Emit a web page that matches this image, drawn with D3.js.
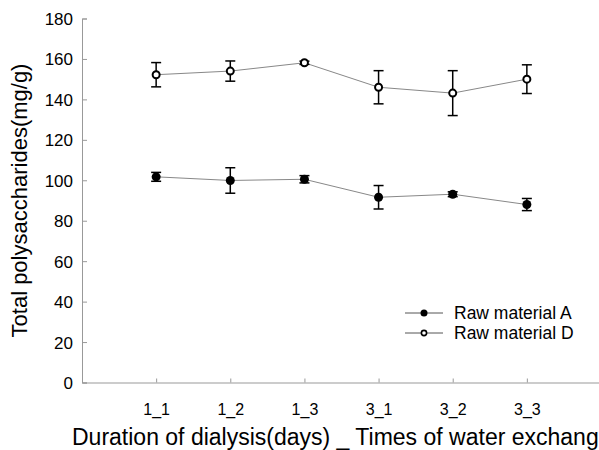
<!DOCTYPE html>
<html>
<head>
<meta charset="utf-8">
<script src="https://cdn.jsdelivr.net/npm/d3@7"></script>
<style>
  body { margin: 0; background: #fff; }
  text { font-family: Arial, "Liberation Sans", sans-serif; fill: #000; }
</style>
</head>
<body>
<div id="chart"></div>
<script>
// values
const categories = ["1_1", "1_2", "1_3", "3_1", "3_2", "3_3"];
const meanA = [101.7, 99.9, 100.5, 91.6, 93.1, 88.0];
const errA = [2.2, 6.3, 1.8, 5.8, 1.2, 3.0];
const meanD = [152.2, 154.0, 158.1, 146.0, 143.1, 150.0];
const errD = [6.0, 5.0, 0.8, 8.2, 11.1, 7.1];
const yTicks = [0, 20, 40, 60, 80, 100, 120, 140, 160, 180];
const seriesNames = ["Raw material A", "Raw material D"];

const width = 599;
const height = 450;
const plot = {left: 82, right: 601, top: 18.5, bottom: 382.5};

const svg = d3.select("#chart").append("svg")
    .attr("width", width)
    .attr("height", height);

// categories sit at positions 1..6 on a 0..7 axis
const x = d3.scaleLinear().domain([0, 7]).range([plot.left, plot.right]);
const y = d3.scaleLinear().domain([0, 180]).range([plot.bottom, plot.top]);

const yAxis = d3.axisLeft(y).tickValues(yTicks).tickSize(-5).tickPadding(9);
const gy = svg.append("g")
    .attr("transform", "translate(" + plot.left + ",0)")
    .call(yAxis);
gy.select(".domain").attr("stroke", "#999");
gy.selectAll(".tick line").attr("stroke", "#999");
gy.selectAll(".tick text").style("font-size", "17px").attr("dy", "0.35em");

const xAxis = d3.axisBottom(x)
    .tickValues(d3.range(1, 7))
    .tickFormat(i => categories[i - 1])
    .tickSize(-4)
    .tickPadding(18)
    .tickSizeOuter(0);
const gx = svg.append("g")
    .attr("transform", "translate(0," + plot.bottom + ")")
    .call(xAxis);
gx.select(".domain").attr("stroke", "#999");
gx.selectAll(".tick line").attr("stroke", "#999");
gx.selectAll(".tick text").style("font-size", "16px").attr("dy", "0.9em");

// axis titles
svg.append("text")
    .attr("transform", "translate(27," + ((plot.top + plot.bottom) / 2) + ") rotate(-90)")
    .attr("text-anchor", "middle")
    .style("font-size", "22px")
    .text("Total polysaccharides(mg/g)");

svg.append("text")
    .attr("x", 72)
    .attr("y", 445)
    .style("font-size", "23px")
    .text("Duration of dialysis(days) _ Times of water exchange");

function drawSeries(means, errs, filled) {
    const pts = means.map((m, i) => ({ x: i + 1, m: m, e: errs[i] }));
    const line = d3.line().x(d => x(d.x)).y(d => y(d.m));
    const g = svg.append("g");

    g.append("path")
        .datum(pts)
        .attr("d", line)
        .attr("fill", "none")
        .attr("stroke", "#888")
        .attr("stroke-width", 1);

    const eb = g.selectAll(".eb").data(pts).enter().append("g");
    eb.append("line")
        .attr("x1", d => x(d.x)).attr("x2", d => x(d.x))
        .attr("y1", d => y(d.m + d.e)).attr("y2", d => y(d.m - d.e))
        .attr("stroke", "#000").attr("stroke-width", 1.5);
    [1, -1].forEach(s => {
        eb.append("line")
            .attr("x1", d => x(d.x) - 5).attr("x2", d => x(d.x) + 5)
            .attr("y1", d => y(d.m + s * d.e)).attr("y2", d => y(d.m + s * d.e))
            .attr("stroke", "#000").attr("stroke-width", 1.5);
    });

    g.selectAll("circle").data(pts).enter().append("circle")
        .attr("cx", d => x(d.x))
        .attr("cy", d => y(d.m))
        .attr("r", filled ? 4.5 : 3.5)
        .attr("fill", filled ? "#000" : "#fff")
        .attr("stroke", "#000")
        .attr("stroke-width", filled ? 0 : 2);
}

drawSeries(meanA, errA, true);
drawSeries(meanD, errD, false);

// legend
const legend = svg.append("g");
seriesNames.forEach((name, i) => {
    const ly = 313 + i * 20;
    legend.append("line")
        .attr("x1", 405).attr("x2", 443)
        .attr("y1", ly).attr("y2", ly)
        .attr("stroke", "#555").attr("stroke-width", 1);
    legend.append("circle")
        .attr("cx", 424).attr("cy", ly)
        .attr("r", i === 0 ? 3.5 : 2.6)
        .attr("fill", i === 0 ? "#000" : "#fff")
        .attr("stroke", "#000")
        .attr("stroke-width", i === 0 ? 0 : 1.6);
    legend.append("text")
        .attr("x", 454).attr("y", ly + 6)
        .style("font-size", "17.5px")
        .text(name);
});
</script>
</body>
</html>
